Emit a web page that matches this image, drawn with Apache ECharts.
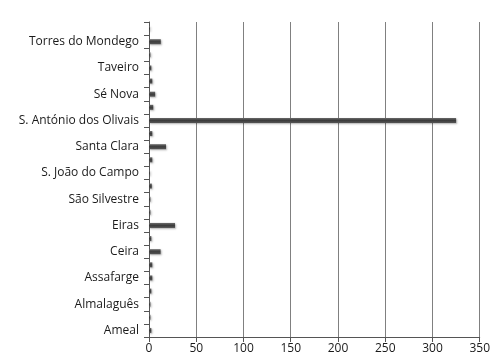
<!DOCTYPE html>
<html>
<head>
<meta charset="utf-8">
<script src="https://cdn.jsdelivr.net/npm/echarts@6/dist/echarts.min.js"></script>
<style>
  html, body { margin: 0; padding: 0; background: #fff; }
  #chart { width: 493px; height: 360px; }
</style>
</head>
<body>
<div id="chart"></div>
<script>
// freguesias, de baixo para cima (só uma em cada duas tem rótulo no original)
const parishes = [
    'Ameal', 'Arzila', 'Almalaguês', 'Antuzede', 'Assafarge', 'Brasfemes',
    'Ceira', 'Cernache', 'Eiras', 'São Martinho do Bispo', 'São Silvestre', 'Souselas',
    'S. João do Campo', 'São Paulo de Frades', 'Santa Clara', 'Santa Cruz',
    'S. António dos Olivais', 'São Bartolomeu', 'Sé Nova', 'Almedina',
    'Taveiro', 'Trouxemil', 'Torres do Mondego', 'Vil de Matos'
];
const values = [
    2.5, 1.5, 1.5, 2.5, 3.5, 3.5,
    12.3, 2.5, 27.5, 1.5, 1.5, 3,
    1, 3.5, 18, 3.5,
    325, 4.5, 6.5, 3.5,
    2.5, 1.5, 12.5, 1
];
const xTicks = { min: 0, max: 350, step: 50 };

(function () {
    let chart = echarts.init(document.querySelector('#chart'));

    let font = 'Open Sans, Noto Sans, sans-serif';

    let option = {
        animation: false,
        grid: {
            left: 149,
            right: 13,
            top: 22,
            bottom: 23,
            containLabel: false
        },
        xAxis: {
            type: 'value',
            min: xTicks.min,
            max: xTicks.max,
            interval: xTicks.step,
            axisLine: { show: true, lineStyle: { color: '#555', width: 1 } },
            axisTick: { show: true, length: 5, lineStyle: { color: '#555' } },
            axisLabel: { color: '#1a1a1a', fontSize: 12, fontFamily: font, margin: 6 },
            splitLine: { show: true, lineStyle: { color: '#808080', width: 1 } }
        },
        yAxis: {
            type: 'category',
            data: parishes,
            axisLine: { show: true, lineStyle: { color: '#555', width: 1 } },
            axisTick: { show: true, length: 5, interval: 0, lineStyle: { color: '#555' } },
            axisLabel: { interval: 1, color: '#1a1a1a', fontSize: 12, fontFamily: font, margin: 10 },
            splitLine: { show: false }
        },
        series: [
            {
                type: 'bar',
                data: values,
                barWidth: 5,
                itemStyle: {
                    color: new echarts.graphic.LinearGradient(0, 0, 0, 1, [
                        { offset: 0, color: '#6a6a6a' },
                        { offset: 0.5, color: '#3c3c3c' },
                        { offset: 1, color: '#555' }
                    ]),
                    shadowColor: 'rgba(0,0,0,0.3)',
                    shadowBlur: 2,
                    shadowOffsetX: 1,
                    shadowOffsetY: 1
                }
            }
        ]
    };

    chart.setOption(option);
})();
</script>
</body>
</html>
